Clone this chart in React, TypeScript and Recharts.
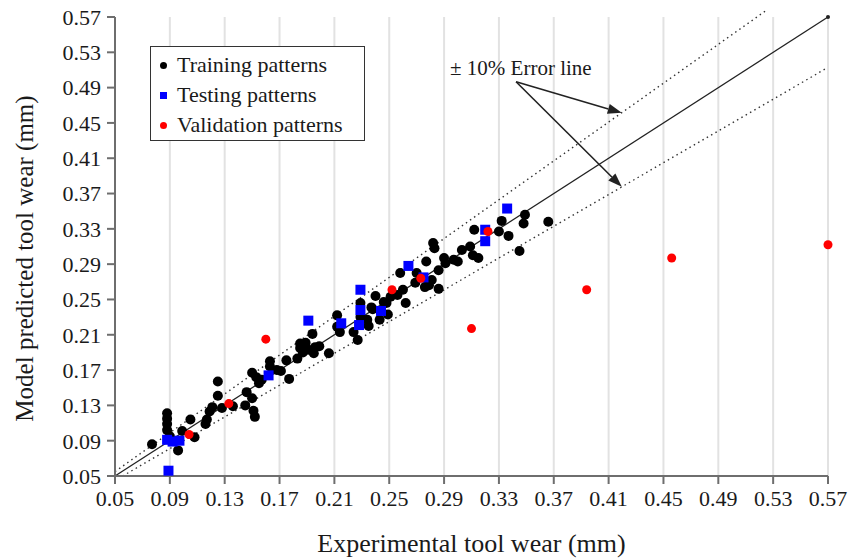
import React from 'react';
import { ScatterChart, Scatter, XAxis, YAxis, CartesianGrid, ReferenceLine, ReferenceDot, Label } from 'recharts';

const axisTicks = [0.05, 0.09, 0.13, 0.17, 0.21, 0.25, 0.29, 0.33, 0.37, 0.41, 0.45, 0.49, 0.53, 0.57];

// [experimental, predicted]
const trainingPatterns: [number, number][] = [
  [0.077, 0.086], [0.088, 0.121], [0.088, 0.115], [0.088, 0.109], [0.088, 0.102], [0.090, 0.095],
  [0.096, 0.079], [0.099, 0.101], [0.105, 0.114], [0.108, 0.094], [0.116, 0.109], [0.117, 0.114],
  [0.119, 0.123], [0.121, 0.128], [0.125, 0.141], [0.125, 0.157], [0.128, 0.127], [0.136, 0.129],
  [0.145, 0.130], [0.146, 0.145], [0.150, 0.167], [0.150, 0.138], [0.151, 0.124], [0.152, 0.117],
  [0.153, 0.162], [0.155, 0.155], [0.157, 0.159], [0.163, 0.180], [0.163, 0.174], [0.168, 0.170],
  [0.171, 0.169], [0.175, 0.181], [0.177, 0.160], [0.183, 0.183], [0.185, 0.200], [0.185, 0.195],
  [0.187, 0.190], [0.189, 0.201], [0.191, 0.193], [0.194, 0.211], [0.195, 0.189], [0.196, 0.196],
  [0.199, 0.197], [0.206, 0.189], [0.212, 0.232], [0.212, 0.219], [0.214, 0.213], [0.224, 0.213],
  [0.227, 0.204], [0.229, 0.246], [0.229, 0.230], [0.234, 0.227], [0.235, 0.220], [0.237, 0.241],
  [0.238, 0.239], [0.240, 0.254], [0.243, 0.227], [0.246, 0.247], [0.248, 0.246], [0.249, 0.233],
  [0.251, 0.253], [0.256, 0.255], [0.258, 0.280], [0.260, 0.261], [0.262, 0.246], [0.269, 0.269],
  [0.270, 0.280], [0.277, 0.293], [0.279, 0.266], [0.276, 0.264], [0.281, 0.272], [0.282, 0.314],
  [0.283, 0.308], [0.286, 0.262], [0.286, 0.283], [0.290, 0.297], [0.291, 0.291], [0.297, 0.295],
  [0.300, 0.293], [0.303, 0.306], [0.309, 0.310], [0.311, 0.300], [0.315, 0.297], [0.312, 0.329],
  [0.332, 0.339], [0.330, 0.327], [0.337, 0.322], [0.345, 0.305], [0.348, 0.336], [0.349, 0.346],
  [0.366, 0.338],
];

const testingPatterns: [number, number][] = [
  [0.089, 0.056], [0.088, 0.091], [0.092, 0.089], [0.097, 0.090], [0.162, 0.164], [0.191, 0.226],
  [0.215, 0.223], [0.229, 0.261], [0.229, 0.238], [0.228, 0.221], [0.244, 0.237], [0.264, 0.288],
  [0.275, 0.275], [0.320, 0.329], [0.320, 0.316], [0.336, 0.353],
];

const validationPatterns: [number, number][] = [
  [0.104, 0.097], [0.133, 0.132], [0.160, 0.205], [0.252, 0.261], [0.273, 0.274], [0.310, 0.217],
  [0.322, 0.327], [0.394, 0.261], [0.456, 0.297], [0.570, 0.312],
];

const idealLine = [{ x: 0.05, y: 0.05 }, { x: 0.57, y: 0.57 }];
const upperErrorLine = [{ x: 0.05, y: 0.055 }, { x: 0.525, y: 0.5775 }];
const lowerErrorLine = [{ x: 0.0556, y: 0.05 }, { x: 0.569, y: 0.512 }];
const annotationText = '± 10% Error line';
const annotationAnchor = { x: 0.346, y: 0.512 };
const arrowStart = { x: 0.3425, y: 0.4966 };
const arrowTips = [{ x: 0.4196, y: 0.4614 }, { x: 0.4196, y: 0.3776 }];

const seriesInfo = [
  { name: 'Training patterns', color: '#000000', shape: 'circle' },
  { name: 'Testing patterns', color: '#0000ff', shape: 'square' },
  { name: 'Validation patterns', color: '#ff0000', shape: 'circle' },
];

const FONT = '"Liberation Serif", "Times New Roman", serif';

const toPoints = (arr: [number, number][]) => arr.map(([x, y]) => ({ x, y }));

const circleShape = (color: string, r: number) => (p: any) => (
  <circle cx={p.cx} cy={p.cy} r={r} fill={color} />
);
const squareShape = (color: string, s: number) => (p: any) => (
  <rect x={p.cx - s / 2} y={p.cy - s / 2} width={s} height={s} fill={color} />
);

const ArrowShape = (p: any) => {
  const { x1, y1, x2, y2 } = p;
  const ang = Math.atan2(y2 - y1, x2 - x1);
  const len = 14;
  const w = 5;
  const bx = x2 - len * Math.cos(ang);
  const by = y2 - len * Math.sin(ang);
  const px = -Math.sin(ang) * w;
  const py = Math.cos(ang) * w;
  return (
    <g>
      <line x1={x1} y1={y1} x2={bx} y2={by} stroke="#222" strokeWidth={1.6} />
      <polygon points={`${x2},${y2} ${bx + px},${by + py} ${bx - px},${by - py}`} fill="#222" />
    </g>
  );
};

export default function App() {
  return (
    <div style={{ position: 'absolute', left: 0, top: 0, width: 860, height: 558, background: '#fff' }}>
      <ScatterChart width={860} height={558} margin={{ top: 17, right: 32, bottom: 0, left: 0 }}>
        <CartesianGrid horizontal={false} vertical stroke="#e2e2e2" strokeWidth={2} />
        <XAxis
          type="number"
          dataKey="x"
          domain={[0.05, 0.57]}
          ticks={axisTicks}
          tickFormatter={(v: number) => v.toFixed(2)}
          height={82}
          stroke="#6e6e6e"
          strokeWidth={2}
          tickSize={8}
          tickMargin={6}
          tick={{ fontSize: 22, fill: '#1a1a1a', fontFamily: FONT }}
        >
          <Label
            content={(props: any) => {
              const vb = props.viewBox;
              return (
                <text x={vb.x + vb.width / 2} y={552} textAnchor="middle" fontSize={26} fontFamily={FONT} fill="#1a1a1a">
                  Experimental tool wear (mm)
                </text>
              );
            }}
          />
        </XAxis>
        <YAxis
          type="number"
          dataKey="y"
          domain={[0.05, 0.57]}
          ticks={axisTicks}
          tickFormatter={(v: number) => v.toFixed(2)}
          width={115}
          stroke="#6e6e6e"
          strokeWidth={2}
          tickSize={8}
          tickMargin={6}
          tick={{ fontSize: 22, fill: '#1a1a1a', fontFamily: FONT }}
        >
          <Label
            content={(props: any) => {
              const vb = props.viewBox;
              const cy = vb.y + vb.height / 2 + 12;
              return (
                <text x={33} y={cy} transform={`rotate(-90, 33, ${cy})`} textAnchor="middle" fontSize={25} fontFamily={FONT} fill="#1a1a1a">
                  Model predicted tool wear (mm)
                </text>
              );
            }}
          />
        </YAxis>

        <ReferenceLine segment={upperErrorLine} ifOverflow="visible" stroke="#333" strokeWidth={1.4} strokeDasharray="1.5 3.5" />
        <ReferenceLine segment={lowerErrorLine} ifOverflow="visible" stroke="#333" strokeWidth={1.4} strokeDasharray="1.5 3.5" />
        <ReferenceLine segment={idealLine} ifOverflow="visible" stroke="#222" strokeWidth={1.3} />
        <ReferenceDot x={idealLine[1].x} y={idealLine[1].y} r={2} fill="#222" stroke="none" ifOverflow="visible" />

        <Scatter name={seriesInfo[0].name} data={toPoints(trainingPatterns)} shape={circleShape(seriesInfo[0].color, 5)} isAnimationActive={false} />
        <Scatter name={seriesInfo[1].name} data={toPoints(testingPatterns)} shape={squareShape(seriesInfo[1].color, 10)} isAnimationActive={false} />
        <Scatter name={seriesInfo[2].name} data={toPoints(validationPatterns)} shape={circleShape(seriesInfo[2].color, 4.5)} isAnimationActive={false} />

        {arrowTips.map((tip, i) => (
          <ReferenceLine key={i} segment={[arrowStart, tip]} ifOverflow="visible" shape={ArrowShape} />
        ))}
        <ReferenceDot
          x={annotationAnchor.x}
          y={annotationAnchor.y}
          ifOverflow="visible"
          shape={(p: any) => (
            <text x={p.cx} y={p.cy} textAnchor="middle" dominantBaseline="central" fontSize={21} fontFamily={FONT} fill="#1a1a1a">
              {annotationText}
            </text>
          )}
        />
      </ScatterChart>
      <div
        style={{
          position: 'absolute',
          left: 150,
          top: 46,
          width: 215,
          height: 95,
          border: '1.5px solid #333',
          background: '#fff',
          fontFamily: FONT,
          fontSize: 22,
          color: '#1a1a1a',
          boxSizing: 'border-box',
          paddingTop: 3,
        }}
      >
        {seriesInfo.map((s) => (
          <div key={s.name} style={{ display: 'flex', alignItems: 'center', height: 30, whiteSpace: 'nowrap' }}>
            <span
              style={{
                display: 'inline-block',
                width: 7,
                height: 7,
                marginLeft: 9,
                marginRight: 10,
                background: s.color,
                borderRadius: s.shape === 'circle' ? '50%' : 0,
              }}
            />
            <span>{s.name}</span>
          </div>
        ))}
      </div>
    </div>
  );
}
